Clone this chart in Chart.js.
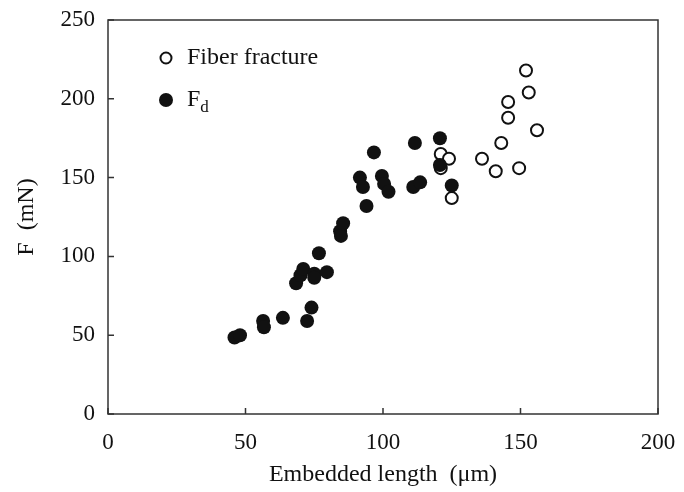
<!DOCTYPE html>
<html>
<head>
<meta charset="utf-8">
<script src="https://cdn.jsdelivr.net/npm/chart.js@4/dist/chart.umd.min.js"></script>
<style>
  html, body { margin: 0; padding: 0; background: #fff; }
  #wrap { width: 684px; height: 492px; }
</style>
</head>
<body>
<div id="wrap"><canvas id="myChart" width="684" height="492"></canvas></div>
<script>
// fiber fracture (open circles)
const fractureX = [121, 121, 124, 125, 136, 141, 143, 145.5, 145.5, 149.5, 152, 153, 156];
const fractureY = [165, 156, 162, 137, 162, 154, 172, 198, 188, 156, 218, 204, 180];
// debonding force F_d (filled circles)
const debondX = [46, 48, 56.4, 56.7, 63.6, 72.4, 74, 68.4, 70, 71, 75, 75, 79.6, 76.7, 84.4, 84.7, 85.5,
                 94, 91.6, 92.7, 96.7, 99.6, 100.4, 102, 111.6, 111, 113.5, 120.7, 120.7, 125];
const debondY = [48.5, 50, 59, 55, 61, 59, 67.5, 83, 88, 92, 89, 86.5, 90, 102, 116, 113, 121,
                 132, 150, 144, 166, 151, 146, 141, 172, 144, 147, 175, 158, 145];
const xTicks = [0, 50, 100, 150, 200];
const yTicks = [0, 50, 100, 150, 200, 250];

const serif = "'Liberation Serif', 'DejaVu Serif', serif";
const ink = '#111';

function toPoints(xs, ys) {
  return xs.map((x, i) => ({ x: x, y: ys[i] }));
}

// box around the plot + inward ticks + legend
const framePlugin = {
  id: 'frame',
  afterDraw(chart) {
    const ctx = chart.ctx;
    const a = chart.chartArea;
    const xs = chart.scales.x, ys = chart.scales.y;
    ctx.save();
    ctx.strokeStyle = '#333';
    ctx.lineWidth = 1.5;
    ctx.strokeRect(a.left, a.top, a.right - a.left, a.bottom - a.top);
    ctx.beginPath();
    yTicks.forEach(v => {
      const py = ys.getPixelForValue(v);
      ctx.moveTo(a.left, py);
      ctx.lineTo(a.left + 6, py);
    });
    xTicks.forEach(v => {
      const px = xs.getPixelForValue(v);
      ctx.moveTo(px, a.bottom);
      ctx.lineTo(px, a.bottom - 6);
    });
    ctx.stroke();

    // legend
    const ds = chart.data.datasets;
    const lx = 166, rows = [58, 100];
    ctx.fillStyle = ink;
    ctx.textBaseline = 'middle';
    ctx.font = '24px ' + serif;
    ctx.beginPath();
    ctx.arc(lx, rows[0], 5.5, 0, Math.PI * 2);
    ctx.lineWidth = 2;
    ctx.strokeStyle = ink;
    ctx.stroke();
    ctx.fillText(ds[0].label, lx + 21, rows[0]);
    ctx.beginPath();
    ctx.arc(lx, rows[1], 7, 0, Math.PI * 2);
    ctx.fill();
    ctx.fillText('F', lx + 21, rows[1]);
    const fw = ctx.measureText('F').width;
    ctx.font = '17px ' + serif;
    ctx.fillText('d', lx + 21 + fw, rows[1] + 8);
    ctx.restore();
  }
};

const ctx = document.getElementById('myChart').getContext('2d');
const myChart = new Chart(ctx, {
  type: 'scatter',
  data: {
    datasets: [{
      label: 'Fiber fracture',
      data: toPoints(fractureX, fractureY),
      pointRadius: 6,
      pointBorderWidth: 2,
      pointBackgroundColor: '#fff',
      pointBorderColor: ink,
      order: 2
    }, {
      label: 'Fd',
      data: toPoints(debondX, debondY),
      pointRadius: 7,
      pointBorderWidth: 0,
      pointBackgroundColor: '#111',
      pointBorderColor: '#111',
      order: 1
    }]
  },
  options: {
    responsive: false,
    animation: false,
    layout: { padding: { left: 0, right: 26, top: 20, bottom: 0 } },
    plugins: {
      legend: { display: false },
      tooltip: { enabled: false }
    },
    scales: {
      x: {
        type: 'linear',
        min: 0, max: 200,
        afterFit(scale) {
          scale.height = 78;
          scale.paddingLeft = 0;
          scale.paddingRight = 0;
        },
        afterBuildTicks(scale) { scale.ticks = xTicks.map(v => ({ value: v })); },
        grid: { display: false, drawTicks: false },
        border: { display: false },
        ticks: { color: ink, padding: 15, maxRotation: 0, font: { family: serif, size: 23 } },
        title: {
          display: true,
          text: 'Embedded length  (\u03bcm)',
          color: ink,
          padding: { top: 0, bottom: 3 },
          font: { family: serif, size: 24 }
        }
      },
      y: {
        type: 'linear',
        min: 0, max: 250,
        afterFit(scale) {
          scale.width = 108;
          scale.paddingTop = 0;
          scale.paddingBottom = 0;
        },
        afterBuildTicks(scale) { scale.ticks = yTicks.map(v => ({ value: v })); },
        grid: { display: false, drawTicks: false },
        border: { display: false },
        ticks: { color: ink, padding: 13, font: { family: serif, size: 23 } },
        title: {
          display: true,
          text: 'F  (mN)',
          color: ink,
          padding: { top: 12, bottom: 0 },
          font: { family: serif, size: 24 }
        }
      }
    }
  },
  plugins: [framePlugin]
});
</script>
</body>
</html>
